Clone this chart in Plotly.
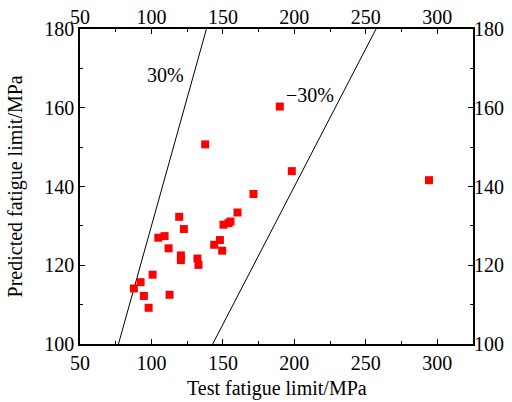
import plotly.graph_objects as go

# Data
test_limit = [87.7, 92.4, 94.7, 98.0, 100.8, 104.8, 109.2, 112.0, 112.7, 119.4,
              122.7, 120.6, 120.6, 132.2, 132.9, 137.6, 143.9, 147.9, 149.5, 150.4,
              153.9, 155.3, 160.2, 171.4, 189.8, 198.2, 294.2]
predicted_limit = [114.1, 115.7, 112.2, 109.2, 117.6, 127.0, 127.4, 124.3, 112.5, 132.3,
                   129.2, 122.5, 121.3, 121.7, 120.1, 150.7, 125.2, 126.4, 123.7, 130.3,
                   130.7, 131.1, 133.4, 138.1, 160.3, 143.9, 141.6]

band_ratios = [1.3, 0.7]
band_labels = ["30%", "\u221230%"]
band_label_pos = [(110, 168.3), (211, 163.2)]
y_span = [100, 180]
x_range = [50, 325]
x_ticks = [50, 100, 150, 200, 250, 300]
y_ticks = [100, 120, 140, 160, 180]
x_title = "Test fatigue limit/MPa"
y_title = "Predicted fatigue limit/MPa"

FONT = "Liberation Serif"
FS = 20

fig = go.Figure()

for r in band_ratios:
    fig.add_trace(go.Scatter(
        x=[y / r for y in y_span], y=y_span, mode="lines",
        line=dict(color="black", width=1), showlegend=False, hoverinfo="skip"))

fig.add_trace(go.Scatter(
    x=test_limit, y=predicted_limit, mode="markers",
    marker=dict(symbol="square", size=8, color="#ff0000", line=dict(width=0)),
    showlegend=False))

# invisible copy to activate the top/right label axes
fig.add_trace(go.Scatter(
    x=test_limit, y=predicted_limit, mode="markers", xaxis="x2", yaxis="y2",
    marker=dict(opacity=0), showlegend=False, hoverinfo="skip"))

for lab, (ax, ay) in zip(band_labels, band_label_pos):
    fig.add_annotation(x=ax, y=ay, text=lab, showarrow=False,
                       font=dict(family=FONT, size=FS, color="black"))

# axis titles
fig.add_annotation(xref="paper", yref="paper", x=0.5, y=-0.14, text=x_title,
                   showarrow=False, yanchor="middle",
                   font=dict(family=FONT, size=FS, color="black"))
fig.add_annotation(xref="paper", yref="paper", x=-0.163, y=0.5, text=y_title,
                   showarrow=False, textangle=-90, xanchor="center",
                   font=dict(family=FONT, size=FS, color="black"))

axis_common = dict(showgrid=False, zeroline=False, ticks="inside", ticklen=5,
                   tickwidth=1, tickcolor="black", automargin=False,
                   tickfont=dict(family=FONT, size=FS, color="black"))

fig.update_layout(
    width=512, height=402,
    margin=dict(l=80, r=39, t=29, b=58),
    plot_bgcolor="white", paper_bgcolor="white",
    font=dict(family=FONT, size=FS, color="black"),
    xaxis=dict(range=x_range, tickvals=x_ticks, showline=True, linecolor="black",
               linewidth=1.5, mirror="ticks",
               minor=dict(dtick=25, tick0=50, ticks="inside", ticklen=3, tickcolor="black"),
               **axis_common),
    yaxis=dict(range=[100, 180], tickvals=y_ticks, showline=True, linecolor="black",
               linewidth=1.5, mirror="ticks",
               minor=dict(dtick=10, tick0=100, ticks="inside", ticklen=3, tickcolor="black"),
               **axis_common),
    xaxis2=dict(range=x_range, tickvals=x_ticks, overlaying="x", side="top",
                showline=False, showgrid=False, zeroline=False, ticks="", automargin=False,
                tickfont=dict(family=FONT, size=FS, color="black")),
    yaxis2=dict(range=[100, 180], tickvals=y_ticks, overlaying="y", side="right",
                showline=False, showgrid=False, zeroline=False, ticks="", automargin=False,
                tickfont=dict(family=FONT, size=FS, color="black")),
)

fig.write_html("out.html")
